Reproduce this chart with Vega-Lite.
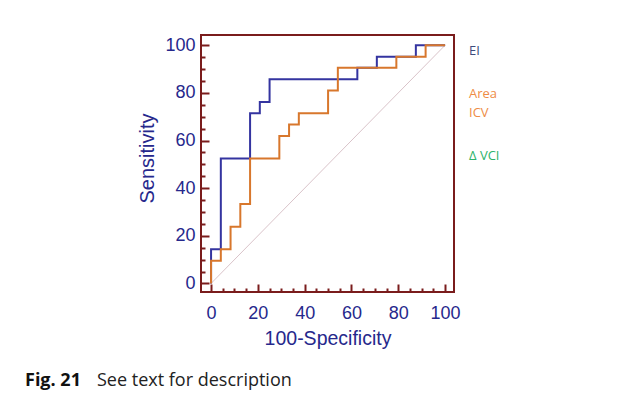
{
  "$schema": "https://vega.github.io/schema/vega-lite/v6.json",
  "width": 253,
  "height": 257,
  "autosize": {"type": "none"},
  "padding": {"left": 201, "top": 35, "right": 175, "bottom": 106},
  "background": "white",
  "title": {
    "text": "Fig. 21",
    "subtitle": "See text for description",
    "orient": "bottom",
    "anchor": "start",
    "frame": "group",
    "dx": -176,
    "offset": 24,
    "font": "Open Sans",
    "fontSize": 18,
    "fontWeight": "bold",
    "color": "#111111",
    "subtitleFont": "Open Sans",
    "subtitleFontSize": 18,
    "subtitleFontWeight": "normal",
    "subtitleColor": "#222222",
    "subtitlePadding": -18,
    "encode": {"subtitle": {"update": {"dx": {"value": -104}}}}
  },
  "datasets": {
    "roc": [
      {"curve": "EI", "order": 1, "fpr": 0, "tpr": 0},
      {"curve": "EI", "order": 2, "fpr": 0, "tpr": 14.3},
      {"curve": "EI", "order": 3, "fpr": 4.17, "tpr": 14.3},
      {"curve": "EI", "order": 4, "fpr": 4.17, "tpr": 52.4},
      {"curve": "EI", "order": 5, "fpr": 16.67, "tpr": 52.4},
      {"curve": "EI", "order": 6, "fpr": 16.67, "tpr": 71.4},
      {"curve": "EI", "order": 7, "fpr": 20.83, "tpr": 71.4},
      {"curve": "EI", "order": 8, "fpr": 20.83, "tpr": 76.2},
      {"curve": "EI", "order": 9, "fpr": 25, "tpr": 76.2},
      {"curve": "EI", "order": 10, "fpr": 25, "tpr": 85.7},
      {"curve": "EI", "order": 11, "fpr": 62.5, "tpr": 85.7},
      {"curve": "EI", "order": 12, "fpr": 62.5, "tpr": 90.5},
      {"curve": "EI", "order": 13, "fpr": 70.83, "tpr": 90.5},
      {"curve": "EI", "order": 14, "fpr": 70.83, "tpr": 95.2},
      {"curve": "EI", "order": 15, "fpr": 87.5, "tpr": 95.2},
      {"curve": "EI", "order": 16, "fpr": 87.5, "tpr": 100},
      {"curve": "EI", "order": 17, "fpr": 100, "tpr": 100},
      {"curve": "Area ICV", "order": 1, "fpr": 0, "tpr": 0},
      {"curve": "Area ICV", "order": 2, "fpr": 0, "tpr": 9.5},
      {"curve": "Area ICV", "order": 3, "fpr": 4.17, "tpr": 9.5},
      {"curve": "Area ICV", "order": 4, "fpr": 4.17, "tpr": 14.3},
      {"curve": "Area ICV", "order": 5, "fpr": 8.33, "tpr": 14.3},
      {"curve": "Area ICV", "order": 6, "fpr": 8.33, "tpr": 23.8},
      {"curve": "Area ICV", "order": 7, "fpr": 12.5, "tpr": 23.8},
      {"curve": "Area ICV", "order": 8, "fpr": 12.5, "tpr": 33.3},
      {"curve": "Area ICV", "order": 9, "fpr": 16.67, "tpr": 33.3},
      {"curve": "Area ICV", "order": 10, "fpr": 16.67, "tpr": 52.4},
      {"curve": "Area ICV", "order": 11, "fpr": 29.17, "tpr": 52.4},
      {"curve": "Area ICV", "order": 12, "fpr": 29.17, "tpr": 61.9},
      {"curve": "Area ICV", "order": 13, "fpr": 33.33, "tpr": 61.9},
      {"curve": "Area ICV", "order": 14, "fpr": 33.33, "tpr": 66.7},
      {"curve": "Area ICV", "order": 15, "fpr": 37.5, "tpr": 66.7},
      {"curve": "Area ICV", "order": 16, "fpr": 37.5, "tpr": 71.4},
      {"curve": "Area ICV", "order": 17, "fpr": 50, "tpr": 71.4},
      {"curve": "Area ICV", "order": 18, "fpr": 50, "tpr": 81},
      {"curve": "Area ICV", "order": 19, "fpr": 54.17, "tpr": 81},
      {"curve": "Area ICV", "order": 20, "fpr": 54.17, "tpr": 90.5},
      {"curve": "Area ICV", "order": 21, "fpr": 79.17, "tpr": 90.5},
      {"curve": "Area ICV", "order": 22, "fpr": 79.17, "tpr": 95.2},
      {"curve": "Area ICV", "order": 23, "fpr": 91.67, "tpr": 95.2},
      {"curve": "Area ICV", "order": 24, "fpr": 91.67, "tpr": 100},
      {"curve": "Area ICV", "order": 25, "fpr": 100, "tpr": 100}
    ],
    "diag": [
      {"fpr": 0, "tpr": 0},
      {"fpr": 100, "tpr": 100}
    ]
  },
  "layer": [
    {
      "data": {"name": "diag"},
      "mark": {"type": "line", "color": "#d9c3c9", "strokeWidth": 1},
      "encoding": {
        "x": {
          "field": "fpr", "type": "quantitative",
          "scale": {"domain": [-4.3, 103.8], "nice": false, "zero": false},
          "axis": {"orient": "bottom", "title": "100-Specificity", "titleFontSize": 19.5, "values": [0, 20, 40, 60, 80, 100], "tickSize": -8, "labelPadding": 20, "titlePadding": 7}
        },
        "y": {
          "field": "tpr", "type": "quantitative",
          "scale": {"domain": [-3.6, 104.3], "nice": false, "zero": false},
          "axis": {"orient": "left", "title": "Sensitivity", "titleFontSize": 20, "titleY": 123, "values": [0, 20, 40, 60, 80, 100], "tickSize": -8, "labelPadding": 14, "titlePadding": 7}
        }
      }
    },
    {
      "data": {"name": "roc"},
      "mark": {"type": "line", "strokeWidth": 2},
      "encoding": {
        "x": {
          "field": "fpr", "type": "quantitative",
          "axis": {"orient": "bottom", "title": null, "labels": false, "values": [5, 10, 15, 25, 30, 35, 45, 50, 55, 65, 70, 75, 85, 90, 95], "tickSize": -4}
        },
        "y": {
          "field": "tpr", "type": "quantitative",
          "axis": {"orient": "left", "title": null, "labels": false, "values": [5, 10, 15, 25, 30, 35, 45, 50, 55, 65, 70, 75, 85, 90, 95], "tickSize": -4}
        },
        "order": {"field": "order", "type": "quantitative"},
        "color": {
          "field": "curve",
          "type": "nominal",
          "sort": null,
          "scale": {"domain": ["EI", "Area ICV", "Δ VCI"], "range": ["#3434a0", "#d8772c", "#2db36b"]},
          "legend": {
            "orient": "none",
            "legendX": 255,
            "legendY": 9,
            "title": null,
            "symbolSize": 0,
            "symbolStrokeWidth": 0,
            "symbolOpacity": 0,
            "labelOffset": 0,
            "labelFont": "Open Sans",
            "labelFontSize": 13,
            "labelLimit": 200,
            "rowPadding": 29,
            "labelExpr": "datum.label == 'Area ICV' ? ['Area', 'ICV'] : datum.label",
            "encode": {
              "labels": {
                "update": {
                  "fill": {"signal": "datum.value === 'EI' ? '#3d4b7c' : datum.value === 'Area ICV' ? '#ee8c46' : '#2db36b'"},
                  "lineHeight": {"value": 19}
                }
              }
            }
          }
        }
      }
    }
  ],
  "resolve": {"axis": {"x": "independent", "y": "independent"}},
  "config": {
    "view": {"stroke": "#7a1c1c", "strokeWidth": 2},
    "axis": {
      "grid": false,
      "domain": false,
      "tickColor": "#7a1c1c",
      "tickWidth": 2,
      "labelFont": "Liberation Sans",
      "labelFontSize": 18,
      "labelColor": "#26288c",
      "titleFont": "Liberation Sans",
      "titleFontSize": 18,
      "titleFontWeight": "normal",
      "titleColor": "#26288c"
    }
  }
}
